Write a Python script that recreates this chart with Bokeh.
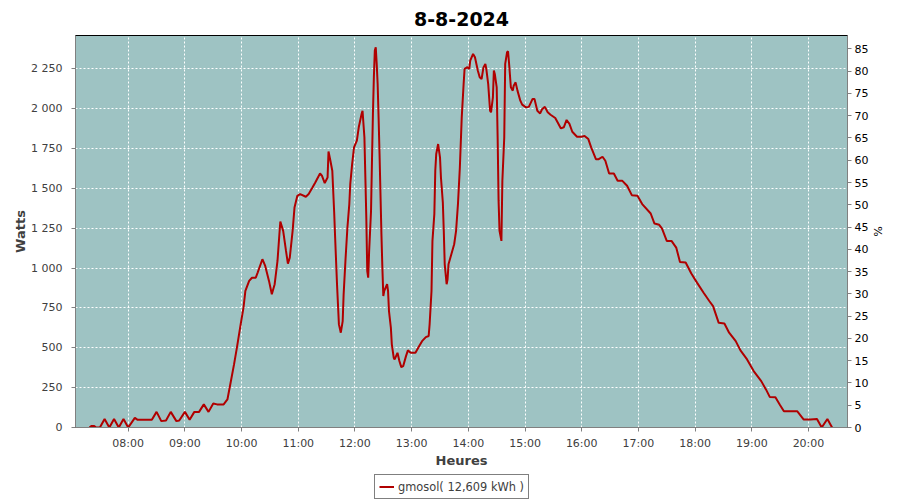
from bokeh.plotting import figure
from bokeh.layouts import column
from bokeh.models import Range1d, LinearAxis, FixedTicker, Legend, LegendItem
from bokeh.embed import file_html
from bokeh.resources import INLINE

chart_title = "8-8-2024"
series_label = "gmosol( 12,609 kWh )"
x_label = "Heures"
y_label = "Watts"
y2_label = "%"

times = [
    "07:19", "07:21", "07:24", "07:26", "07:30", "07:35", "07:40", "07:45", "07:50", "07:55",
    "08:00", "08:07", "08:10", "08:25", "08:30", "08:35", "08:40", "08:45", "08:51", "08:54",
    "09:00", "09:05", "09:10", "09:15", "09:20", "09:25", "09:30", "09:34", "09:41", "09:45",
    "09:48", "09:52", "09:55", "09:59", "10:02", "10:04", "10:08", "10:11", "10:15", "10:17",
    "10:22", "10:25", "10:29", "10:32", "10:35", "10:38", "10:40", "10:41", "10:44", "10:47",
    "10:49", "10:51", "10:54", "10:56", "10:59", "11:02", "11:08", "11:11", "11:15", "11:18",
    "11:23", "11:25", "11:28", "11:31", "11:32", "11:34", "11:36", "11:38", "11:39", "11:40",
    "11:41", "11:42", "11:43", "11:45", "11:47", "11:48", "11:50", "11:52", "11:54", "11:55",
    "11:57", "11:59", "12:02", "12:04", "12:07", "12:08", "12:10", "12:11", "12:12", "12:13",
    "12:14", "12:15", "12:17", "12:18", "12:19", "12:20", "12:21", "12:22", "12:23", "12:24",
    "12:25", "12:26", "12:28", "12:29", "12:30", "12:31", "12:34", "12:35", "12:36", "12:38",
    "12:39", "12:41", "12:42", "12:45", "12:47", "12:49", "12:51", "12:54", "12:56", "12:59",
    "13:04", "13:08", "13:11", "13:15", "13:18", "13:19", "13:21", "13:22", "13:24", "13:25",
    "13:26", "13:28", "13:30", "13:31", "13:33", "13:34", "13:35", "13:37", "13:38", "13:39",
    "13:42", "13:45", "13:47", "13:49", "13:51", "13:53", "13:55", "13:56", "13:59", "14:01",
    "14:02", "14:05", "14:07", "14:10", "14:12", "14:14", "14:16", "14:18", "14:19", "14:21",
    "14:23", "14:24", "14:26", "14:27", "14:28", "14:30", "14:31", "14:32", "14:33", "14:35",
    "14:36", "14:38", "14:39", "14:41", "14:42", "14:43", "14:45", "14:47", "14:48", "14:50",
    "14:52", "14:55", "14:57", "15:01", "15:04", "15:08", "15:10", "15:13", "15:16", "15:18",
    "15:21", "15:24", "15:27", "15:32", "15:38", "15:41", "15:44", "15:47", "15:50", "15:55",
    "16:00", "16:03", "16:07", "16:10", "16:15", "16:18", "16:22", "16:25", "16:29", "16:34",
    "16:38", "16:43", "16:48", "16:53", "16:59", "17:04", "17:13", "17:17", "17:22", "17:25",
    "17:30", "17:35", "17:40", "17:44", "17:50", "17:56", "18:02", "18:09", "18:15", "18:19",
    "18:25", "18:31", "18:36", "18:43", "18:48", "18:55", "19:02", "19:10", "19:15", "19:19",
    "19:25", "19:30", "19:34", "19:48", "19:55", "20:02", "20:09", "20:14", "20:20", "20:25",
]

watts = [
    0, 10, 10, 0, 0, 54, 0, 54, 0, 54,
    0, 60, 48, 48, 98, 40, 44, 98, 40, 44,
    98, 48, 98, 98, 145, 98, 151, 145, 145, 176,
    270, 396, 500, 647, 752, 857, 920, 940, 940, 972,
    1056, 1014, 920, 836, 899, 1045, 1213, 1292, 1234, 1108,
    1028, 1066, 1234, 1380, 1454, 1465, 1448, 1465, 1506, 1538,
    1594, 1580, 1534, 1569, 1732, 1674, 1611, 1349, 1192, 1045,
    899, 773, 647, 595, 668, 836, 1056, 1255, 1402, 1527,
    1653, 1758, 1800, 1884, 1967, 1988, 1820, 1569, 1317, 982,
    940, 1108, 1359, 1674, 1967, 2198, 2365, 2386, 2282, 2156,
    1946, 1716, 1213, 1003, 825, 857, 899, 857, 731, 626,
    522, 438, 427, 469, 417, 379, 385, 448, 484, 469,
    469, 511, 542, 567, 574, 647, 857, 1171, 1339, 1611,
    1716, 1779, 1695, 1569, 1412, 1234, 1024, 899, 930, 1024,
    1087, 1150, 1234, 1402, 1632, 1946, 2156, 2250, 2261, 2250,
    2302, 2344, 2323, 2240, 2198, 2187, 2260, 2282, 2250, 2156,
    1988, 1978, 2072, 2240, 2219, 2135, 1820, 1422, 1234, 1171,
    1548, 1820, 2282, 2355, 2361, 2292, 2135, 2114, 2145, 2166,
    2114, 2051, 2026, 2009, 2012, 2062, 2062, 1988, 1971, 1997,
    2012, 1978, 1963, 1942, 1877, 1884, 1930, 1905, 1856, 1825,
    1825, 1830, 1810, 1758, 1684, 1684, 1699, 1674, 1594, 1594,
    1548, 1548, 1517, 1458, 1454, 1402, 1343, 1280, 1272, 1248,
    1171, 1171, 1129, 1039, 1035, 966, 909, 846, 794, 762,
    657, 653, 595, 542, 484, 427, 354, 291, 239, 192,
    190, 140, 102, 102, 50, 50, 53, 0, 53, 0,
]

x_ticks = ["08:00", "09:00", "10:00", "11:00", "12:00", "13:00", "14:00",
           "15:00", "16:00", "17:00", "18:00", "19:00", "20:00"]
y_ticks = [0, 250, 500, 750, 1000, 1250, 1500, 1750, 2000, 2250]
y_tick_labels = ["0", "250", "500", "750", "1 000", "1 250", "1 500", "1 750", "2 000", "2 250"]
pct_ticks = [0, 5, 10, 15, 20, 25, 30, 35, 40, 45, 50, 55, 60, 65, 70, 75, 80, 85]


def to_min(s):
    h, m = s.split(":")
    return int(h) * 60 + int(m)


xs = [to_min(t) for t in times]
xt = [to_min(t) for t in x_ticks]

FONT = "DejaVu Sans"
BG = "#9EC3C3"
LINE = "#B00000"
AX = "#808080"
TXT = "#404040"

p = figure(width=900, height=472, output_backend="svg", toolbar_location=None,
           x_range=Range1d(424.2, 1241.3), y_range=Range1d(0, 2460),
           min_border_left=75, min_border_right=53, min_border_top=35, min_border_bottom=45)
p.extra_y_ranges = {"pct": Range1d(0, 88)}

p.background_fill_color = BG
p.border_fill_color = "white"
p.outline_line_color = "black"
p.outline_line_width = 1

p.title.text = chart_title
p.title.align = "center"
p.title.offset = -11
p.title.text_font = FONT
p.title.text_font_size = "19px"
p.title.text_font_style = "bold"
p.title.text_color = "black"
p.title.standoff = 19

r = p.line(xs, watts, line_color=LINE, line_width=2)

# x axis
xa = p.xaxis[0]
xa.ticker = FixedTicker(ticks=xt)
xa.major_label_overrides = {v: t for v, t in zip(xt, x_ticks)}
xa.axis_label = x_label

# left axis
ya = p.yaxis[0]
ya.ticker = FixedTicker(ticks=y_ticks)
ya.major_label_overrides = {v: t for v, t in zip(y_ticks, y_tick_labels)}
ya.axis_label = y_label

# right axis
ra = LinearAxis(y_range_name="pct", ticker=FixedTicker(ticks=pct_ticks), axis_label=y2_label)
p.add_layout(ra, "right")

for ax in (xa, ya, ra):
    ax.axis_line_color = AX
    ax.axis_line_width = 1
    ax.major_tick_line_color = AX
    ax.major_tick_out = 4
    ax.major_tick_in = 0
    ax.minor_tick_line_color = None
    ax.major_label_text_font = FONT
    ax.major_label_text_font_size = "11px"
    ax.major_label_text_color = TXT
    ax.axis_label_text_font = FONT
    ax.axis_label_text_font_size = "13px"
    ax.axis_label_text_font_style = "bold"
    ax.axis_label_text_color = TXT

xa.major_label_standoff = 5
xa.axis_label_standoff = 0
ya.major_label_standoff = 9
ya.axis_label_standoff = 0
ra.major_label_standoff = 3
ra.major_label_text_color = "black"
ra.axis_label_text_color = "black"
ra.axis_label_text_font_style = "normal"
ra.axis_label_text_font_size = "11px"
ra.axis_label_standoff = 0

p.xgrid[0].ticker = FixedTicker(ticks=xt)
p.ygrid[0].ticker = FixedTicker(ticks=y_ticks)
for g in (p.xgrid[0], p.ygrid[0]):
    g.grid_line_color = "white"
    g.grid_line_dash = "2 2"
    g.grid_line_width = 1

# legend strip below the chart (its frame is aligned with the chart's frame)
p2 = figure(width=900, height=28, output_backend="svg", toolbar_location=None,
            x_axis_location=None, y_axis_location=None,
            x_range=Range1d(0, 1), y_range=Range1d(0, 1),
            min_border_left=0, min_border_right=0, min_border_top=0, min_border_bottom=0)
p2.outline_line_color = None
p2.grid.visible = False
p2.background_fill_color = "white"
# same series; its values lie outside this strip's ranges, so only the legend glyph shows
r2 = p2.line(xs, watts, line_color=LINE, line_width=2)

legend = Legend(items=[LegendItem(label=series_label, renderers=[r2])],
                location=(299, 1), orientation="horizontal")
legend.border_line_color = "black"
legend.border_line_width = 1
legend.background_fill_color = "white"
legend.background_fill_alpha = 1
legend.label_text_font = FONT
legend.label_text_font_size = "11.4px"
legend.label_text_color = TXT
legend.glyph_width = 15
legend.glyph_height = 15
legend.label_height = 15
legend.label_standoff = 4
legend.padding = 4
legend.spacing = 0
legend.margin = 0
p2.add_layout(legend, "center")

layout = column(p, p2, spacing=0)
open("out.html", "w").write(file_html(layout, INLINE))
